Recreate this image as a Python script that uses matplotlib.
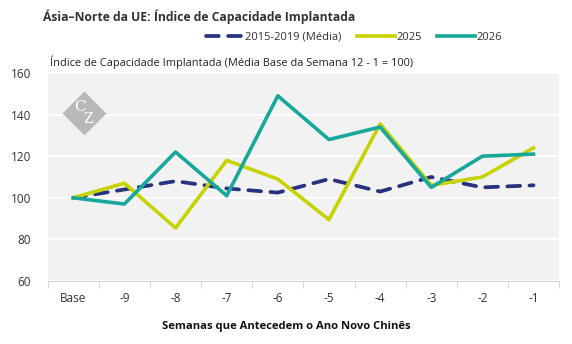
import matplotlib.pyplot as plt
import numpy as np

plt.rcParams['font.family'] = ['Open Sans', 'DejaVu Sans']

# === DONNEES ===
semanas = ["Base", "-9", "-8", "-7", "-6", "-5", "-4", "-3", "-2", "-1"]
media_2015_2019 = [100, 104, 108, 104.5, 102.5, 109, 103, 110, 105, 106]
ano_2025 = [100, 107, 85.5, 118, 109, 89.5, 135.5, 106, 110, 124]
ano_2026 = [100, 97, 122, 101, 149, 128, 134, 105, 120, 121]

azul = "#28327f"
amarelo = "#c6d300"
verde = "#17a89b"

fig = plt.figure(figsize=(5.72, 3.44), dpi=100)
ax = fig.add_axes([0.0834, 0.183, 0.894, 0.605])
ax.set_facecolor("#f2f2f2")

x = np.arange(len(semanas))
ax.plot(x, media_2015_2019, color=azul, lw=2.7, dashes=(3.4, 2.5),
        dash_capstyle='round', label="2015-2019 (Média)", zorder=3)
ax.plot(x, ano_2025, color=amarelo, lw=2.6, label="2025", zorder=4)
ax.plot(x, ano_2026, color=verde, lw=2.6, label="2026", zorder=5)

ax.set_xlim(-0.5, len(semanas) - 0.5)
ax.set_ylim(60, 160)
ax.set_yticks([60, 80, 100, 120, 140, 160])
ax.set_xticks(x)
ax.set_xticklabels(semanas)
ax.set_xticks(np.arange(-0.5, len(semanas)), minor=True)
ax.tick_params(axis='x', which='major', length=0, pad=8, labelsize=8.5, colors="#333333")
ax.tick_params(axis='x', which='minor', length=5, color="#d0d0d0")
ax.tick_params(axis='y', length=0, pad=12, labelsize=8.5, colors="#333333")
ax.grid(axis='y', color="white", lw=1.2)
ax.set_axisbelow(True)
for s in ["top", "right", "left"]:
    ax.spines[s].set_visible(False)
ax.spines["bottom"].set_color("#d8d8d8")

# filigrane
ax.scatter([0.21], [140.8], marker="D", s=500, color="#b8b8b8", zorder=1, linewidths=0)
ax.text(0.14, 143.5, "C", color="white", family="DejaVu Serif", fontsize=11,
        ha="center", va="center", zorder=2)
ax.text(0.29, 138, "Z", color="white", family="DejaVu Serif", fontsize=10,
        ha="center", va="center", zorder=2)

fig.text(0.075, 0.95, "Ásia–Norte da UE: Índice de Capacidade Implantada",
         fontsize=8.7, fontweight="bold", color="#333333", va="center")
fig.text(0.088, 0.82, "Índice de Capacidade Implantada (Média Base da Semana 12 - 1 = 100)",
         fontsize=7.95, color="#222222", va="center")
fig.text(0.5, 0.052, "Semanas que Antecedem o Ano Novo Chinês", fontsize=8.1,
         fontweight="bold", color="#111111", ha="center", va="center")

fig.legend(loc="center right", bbox_to_anchor=(0.877, 0.892), ncol=3, frameon=False,
           fontsize=8, handlelength=3.4, handletextpad=0.1, columnspacing=1.4,
           labelcolor="#333333", borderaxespad=0, borderpad=0)

plt.savefig("out.png", dpi=100)
